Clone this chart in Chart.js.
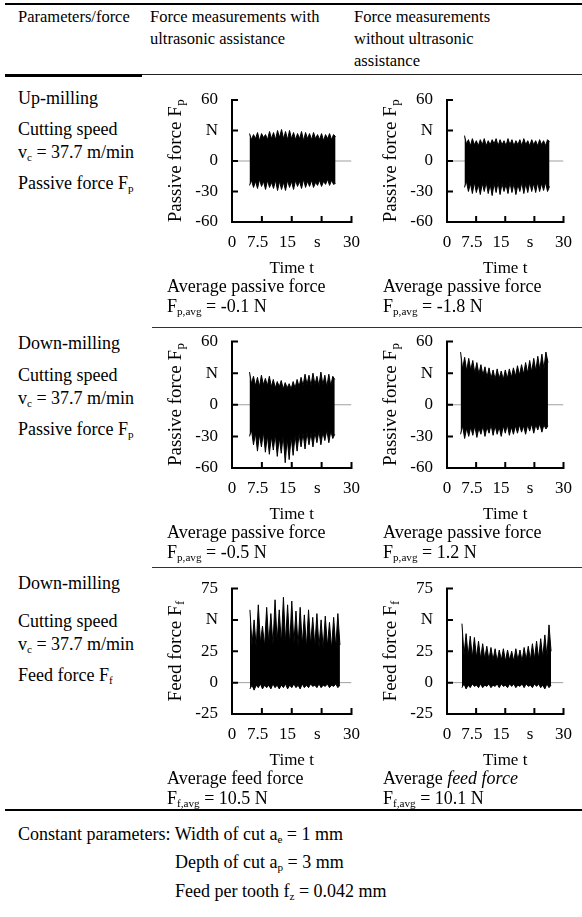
<!DOCTYPE html>
<html><head><meta charset="utf-8">
<script src="https://cdn.jsdelivr.net/npm/chart.js@4/dist/chart.umd.min.js"></script>
<style>
html,body{margin:0;padding:0;background:#fff;}
body{width:582px;height:917px;position:relative;overflow:hidden;font-family:"Liberation Serif","Times New Roman",serif;font-size:18px;color:#000;}
.t{position:absolute;white-space:nowrap;line-height:23px;}
.h{font-size:16.5px;}
.rule{position:absolute;background:#000;}
canvas{position:absolute;}
sub{font-size:62%;vertical-align:baseline;position:relative;top:0.3em;}
</style></head><body>
<div id="root"></div>
<script>
// ---------- data ----------
const timeTicks = [0, 7.5, 15, 22.5, 30];
const timeTickLabels = ['0', '7.5', '15', 's', '30'];
const passiveTicks = [-60, -30, 0, 30, 60];
const passiveTickLabels = ['-60', '-30', '0', 'N', '60'];
const feedTicks = [-25, 0, 25, 50, 75];
const feedTickLabels = ['-25', '0', '25', 'N', '75'];

// Up-milling, passive force, with ultrasonic
const spanA = [4.4, 26.0];
const upperA = [27,21,26,22,28,20,27,23,26,21,29,22,28,21,30,23,31,22,29,21,30,22,28,21,27,22,29,20,28,22,27,21,28,22,26,21,27,20,26,22,27,21,26,24];
const lowerA = [-24,-19,-26,-20,-27,-18,-25,-20,-28,-19,-26,-21,-27,-19,-29,-20,-28,-21,-29,-19,-26,-20,-28,-19,-25,-20,-27,-18,-26,-20,-25,-19,-26,-21,-24,-19,-25,-20,-23,-18,-24,-19,-23,-22];
// Up-milling, passive force, without ultrasonic
const spanB = [4.5, 26.4];
const upperB = [25,17,21,15,22,16,20,15,21,16,22,15,20,16,21,17,22,15,21,16,20,15,22,16,21,15,20,16,21,15,22,16,20,15,21,16,20,15,21,16,20,15,21,19];
const lowerB = [-26,-20,-30,-22,-32,-21,-31,-23,-33,-22,-30,-21,-32,-23,-34,-22,-31,-21,-33,-22,-30,-23,-32,-21,-31,-22,-33,-23,-30,-21,-32,-22,-31,-21,-30,-22,-31,-21,-30,-22,-29,-21,-30,-25];
// Down-milling, passive force, with ultrasonic
const spanC = [4.4, 25.8];
const upperC = [31,20,27,18,26,17,28,19,25,18,27,17,24,16,22,17,23,15,21,16,20,15,22,16,24,17,26,18,29,19,28,18,30,19,27,18,31,19,28,17,29,18,27,24];
const lowerC = [-30,-24,-38,-27,-44,-28,-40,-26,-45,-29,-47,-30,-43,-28,-49,-31,-46,-29,-55,-32,-52,-30,-48,-29,-44,-28,-40,-27,-42,-26,-38,-27,-40,-26,-36,-25,-38,-26,-34,-24,-36,-25,-32,-28];
// Down-milling, passive force, without ultrasonic
const spanD = [3.5, 26.0];
const upperD = [50,34,45,32,44,33,42,30,40,29,38,28,36,26,35,25,33,24,34,25,32,24,33,25,34,26,35,27,37,28,38,29,40,30,42,31,44,32,46,33,48,34,50,40];
const lowerD = [-28,-20,-32,-22,-30,-21,-29,-20,-31,-22,-28,-20,-30,-21,-27,-19,-29,-20,-28,-21,-30,-20,-27,-19,-29,-21,-28,-20,-27,-19,-26,-20,-28,-19,-25,-18,-27,-19,-24,-18,-26,-19,-23,-20];
// Down-milling, feed force, with ultrasonic
const spanE = [4.5, 27.1];
const upperE = [58,30,50,28,62,32,45,29,60,31,55,30,66,33,58,31,68,32,62,30,65,31,57,29,60,30,54,28,58,30,52,29,55,28,50,27,53,29,48,27,52,28,55,30];
const lowerE = [-5,-2,-6,-2,-4,-1,-5,-2,-4,-2,-5,-1,-4,-2,-5,-2,-4,-1,-5,-2,-4,-1,-4,-2,-5,-1,-4,-2,-4,-1,-3,-2,-4,-1,-4,-2,-3,-1,-4,-2,-3,-1,-4,-2];
// Down-milling, feed force, without ultrasonic
const spanF = [3.85, 26.8];
const upperF = [47,22,39,21,37,20,36,20,33,19,31,19,29,18,28,18,27,17,26,18,27,17,26,18,25,17,27,18,26,17,28,18,29,18,31,19,33,19,35,20,38,21,46,25];
const lowerF = [-4,-1,-5,-2,-4,-1,-3,-2,-4,-1,-4,-2,-3,-1,-4,-2,-3,-1,-4,-1,-3,-2,-4,-1,-3,-1,-4,-2,-3,-1,-4,-1,-3,-2,-4,-1,-3,-1,-4,-2,-5,-1,-4,-2];

const avgTexts = ['F<sub>p,avg</sub> = -0.1 N','F<sub>p,avg</sub> = -1.8 N','F<sub>p,avg</sub> = -0.5 N','F<sub>p,avg</sub> = 1.2 N','F<sub>f,avg</sub> = 10.5 N','F<sub>f,avg</sub> = 10.1 N'];

// ---------- layout ----------
const root = document.getElementById('root');
function text(html, x, cy, cls) {
  const d = document.createElement('div');
  d.className = 't' + (cls ? ' ' + cls : '');
  d.innerHTML = html; d.style.left = x + 'px'; d.style.top = (cy - 11.5) + 'px';
  root.appendChild(d);
  return d;
}
function rule(x, y, w, h, c) {
  const d = document.createElement('div'); d.className = 'rule';
  Object.assign(d.style, {left: x + 'px', top: y + 'px', width: w + 'px', height: h + 'px', background: c || '#000'});
  root.appendChild(d);
}
const FAM = '"Liberation Serif","Times New Roman",serif';
rule(5, 2.5, 577, 2.5);
rule(5, 74, 137, 2.5);
rule(142, 74, 440, 1, '#222');
rule(152, 327, 430, 1, '#333');
rule(152, 567, 430, 1, '#333');
rule(5, 808.5, 577, 2.5);

text('Parameters/force', 18, 16, 'h');
text('Force measurements with', 150, 16, 'h'); text('ultrasonic assistance', 150, 38, 'h');
text('Force measurements', 354, 16, 'h'); text('without ultrasonic', 354, 38, 'h'); text('assistance', 354, 60, 'h');

const rowTops = [84.5, 330.5, 576.5];
const rowNames = ['Up-milling', 'Down-milling', 'Down-milling'];
const rowNameDy = [14, 13, 7];
const rowPadTop = [15, 10.5, 11.5];
const rowForce = ['Passive force F<sub>p</sub>', 'Passive force F<sub>p</sub>', 'Feed force F<sub>f</sub>'];
rowTops.forEach((L, r) => {
  text(rowNames[r], 18, L + rowNameDy[r]);
  text('Cutting speed', 18, L + 45);
  text('v<sub>c</sub> = 37.7 m/min', 18, L + 68);
  text(rowForce[r], 18, L + 99);
});

text('Constant parameters: <span id="w1">Width of cut a<sub>e</sub> = 1 mm</span>', 18, 834);
const wx = 18 + document.getElementById('w1').offsetLeft;
text('Depth of cut a<sub>p</sub> = 3 mm', wx, 862);
text('Feed per tooth f<sub>z</sub> = 0.042 mm', wx, 891);

// ---------- charts ----------
const axesPlugin = {
  id: 'axesInside',
  afterDatasetsDraw(chart) {
    const {ctx, chartArea: {left, right, bottom}, scales: {x, y}} = chart;
    ctx.save(); ctx.strokeStyle = '#000'; ctx.lineWidth = 2; ctx.lineCap = 'square';
    ctx.beginPath();
    ctx.moveTo(left, y.getPixelForValue(y.max)); ctx.lineTo(left, bottom); ctx.lineTo(right, bottom);
    y.ticks.forEach(t => { if (t.value > y.min) { const p = y.getPixelForValue(t.value); ctx.moveTo(left, p); ctx.lineTo(left + 5, p); } });
    x.ticks.forEach(t => { if (t.value > x.min) { const p = x.getPixelForValue(t.value); ctx.moveTo(p, bottom); ctx.lineTo(p, bottom - 5); } });
    ctx.stroke(); ctx.restore();
  }
};
const yTitlePlugin = {
  id: 'yTitle',
  afterDraw(chart, args, opts) {
    const {ctx, chartArea: {left, top, bottom}} = chart;
    ctx.save();
    ctx.translate(left - 56, (top + bottom) / 2);
    ctx.rotate(-Math.PI / 2);
    ctx.fillStyle = '#000'; ctx.textBaseline = 'middle';
    ctx.font = '19px ' + FAM; const w1 = ctx.measureText(opts.main).width;
    ctx.font = '13px ' + FAM; const w2 = ctx.measureText(opts.sub).width;
    const x0 = -(w1 + w2) / 2;
    ctx.font = '19px ' + FAM; ctx.fillText(opts.main, x0, 0);
    ctx.font = '13px ' + FAM; ctx.fillText(opts.sub, x0 + w1 + 0.5, 5);
    ctx.restore();
  }
};

function series(vals, span) {
  const n = vals.length;
  return vals.map((v, i) => ({x: span[0] + i * (span[1] - span[0]) / (n - 1), y: v}));
}
// labels in the source sit a little left of their tick marks
const xLabelPad = ['', '\u2002', '\u2002', '\u2002', ''];

const panels = [
  {L: rowTops[0], r: 0, col: 0, up: upperA, lo: lowerA, span: spanA, feed: false, avg: 'Average passive force'},
  {L: rowTops[0], r: 0, col: 1, up: upperB, lo: lowerB, span: spanB, feed: false, avg: 'Average passive force'},
  {L: rowTops[1], r: 1, col: 0, up: upperC, lo: lowerC, span: spanC, feed: false, avg: 'Average passive force'},
  {L: rowTops[1], r: 1, col: 1, up: upperD, lo: lowerD, span: spanD, feed: false, avg: 'Average passive force'},
  {L: rowTops[2], r: 2, col: 0, up: upperE, lo: lowerE, span: spanE, feed: true, avg: 'Average feed force'},
  {L: rowTops[2], r: 2, col: 1, up: upperF, lo: lowerF, span: spanF, feed: true, avg: 'Average <i>feed force</i>'}
];
const colGeom = [{left: 160, width: 210, pr: 9, tx: 167}, {left: 375, width: 207, pr: 10, tx: 383}];

panels.forEach((p, i) => {
  const g = colGeom[p.col];
  const cv = document.createElement('canvas');
  cv.width = g.width; cv.height = 195;
  cv.style.left = g.left + 'px'; cv.style.top = p.L + 'px';
  cv.style.width = g.width + 'px'; cv.style.height = '195px';
  root.appendChild(cv);
  text(p.avg, g.tx, p.L + 201.5);
  text(avgTexts[i], g.tx, p.L + 221.5);

  const yt = p.feed ? feedTicks : passiveTicks;
  const ytl = p.feed ? feedTickLabels : passiveTickLabels;
  new Chart(cv, {
    type: 'line',
    data: {
      datasets: [
        {data: [{x: 0, y: 0}, {x: 30, y: 0}], borderColor: '#a0a0a0', borderWidth: 1, pointRadius: 0, fill: false, order: 3},
        {data: series(p.up, p.span), borderColor: '#000', backgroundColor: '#000', borderWidth: 1, pointRadius: 0, fill: '+1', order: 1},
        {data: series(p.lo, p.span), borderColor: '#000', borderWidth: 1, pointRadius: 0, fill: false, order: 2}
      ]
    },
    options: {
      responsive: false, animation: false, devicePixelRatio: 1,
      layout: {padding: {top: rowPadTop[p.r], right: g.pr, left: 0, bottom: 0}},
      plugins: {legend: {display: false}, tooltip: {enabled: false},
        yTitle: {main: p.feed ? 'Feed force F' : 'Passive force F', sub: p.feed ? 'f' : 'p'}},
      scales: {
        x: {type: 'linear', min: 0, max: 30,
          afterBuildTicks: s => { s.ticks = timeTicks.map(v => ({value: v})); },
          ticks: {autoSkip: false, maxRotation: 0, padding: 10, color: '#000',
            font: {family: FAM, size: 17}, callback: (v, idx) => timeTickLabels[idx] + xLabelPad[idx]},
          grid: {display: false, drawTicks: false}, border: {display: false},
          title: {display: true, text: 'Time t', color: '#000', font: {family: FAM, size: 17}, padding: {top: 0, bottom: 1}},
          afterFit: s => { s.height = 58; }
        },
        y: {type: 'linear', min: yt[0], max: yt[yt.length - 1],
          afterBuildTicks: s => { s.ticks = yt.map(v => ({value: v})); },
          ticks: {autoSkip: false, padding: 0, color: '#000', font: {family: FAM, size: 17},
            callback: (v, idx) => ytl[idx]},
          grid: {display: false, drawTicks: true, tickLength: 14}, border: {display: false},
          afterFit: s => { s.width = 72; }
        }
      }
    },
    plugins: [axesPlugin, yTitlePlugin]
  });
});
</script>
</body></html>
